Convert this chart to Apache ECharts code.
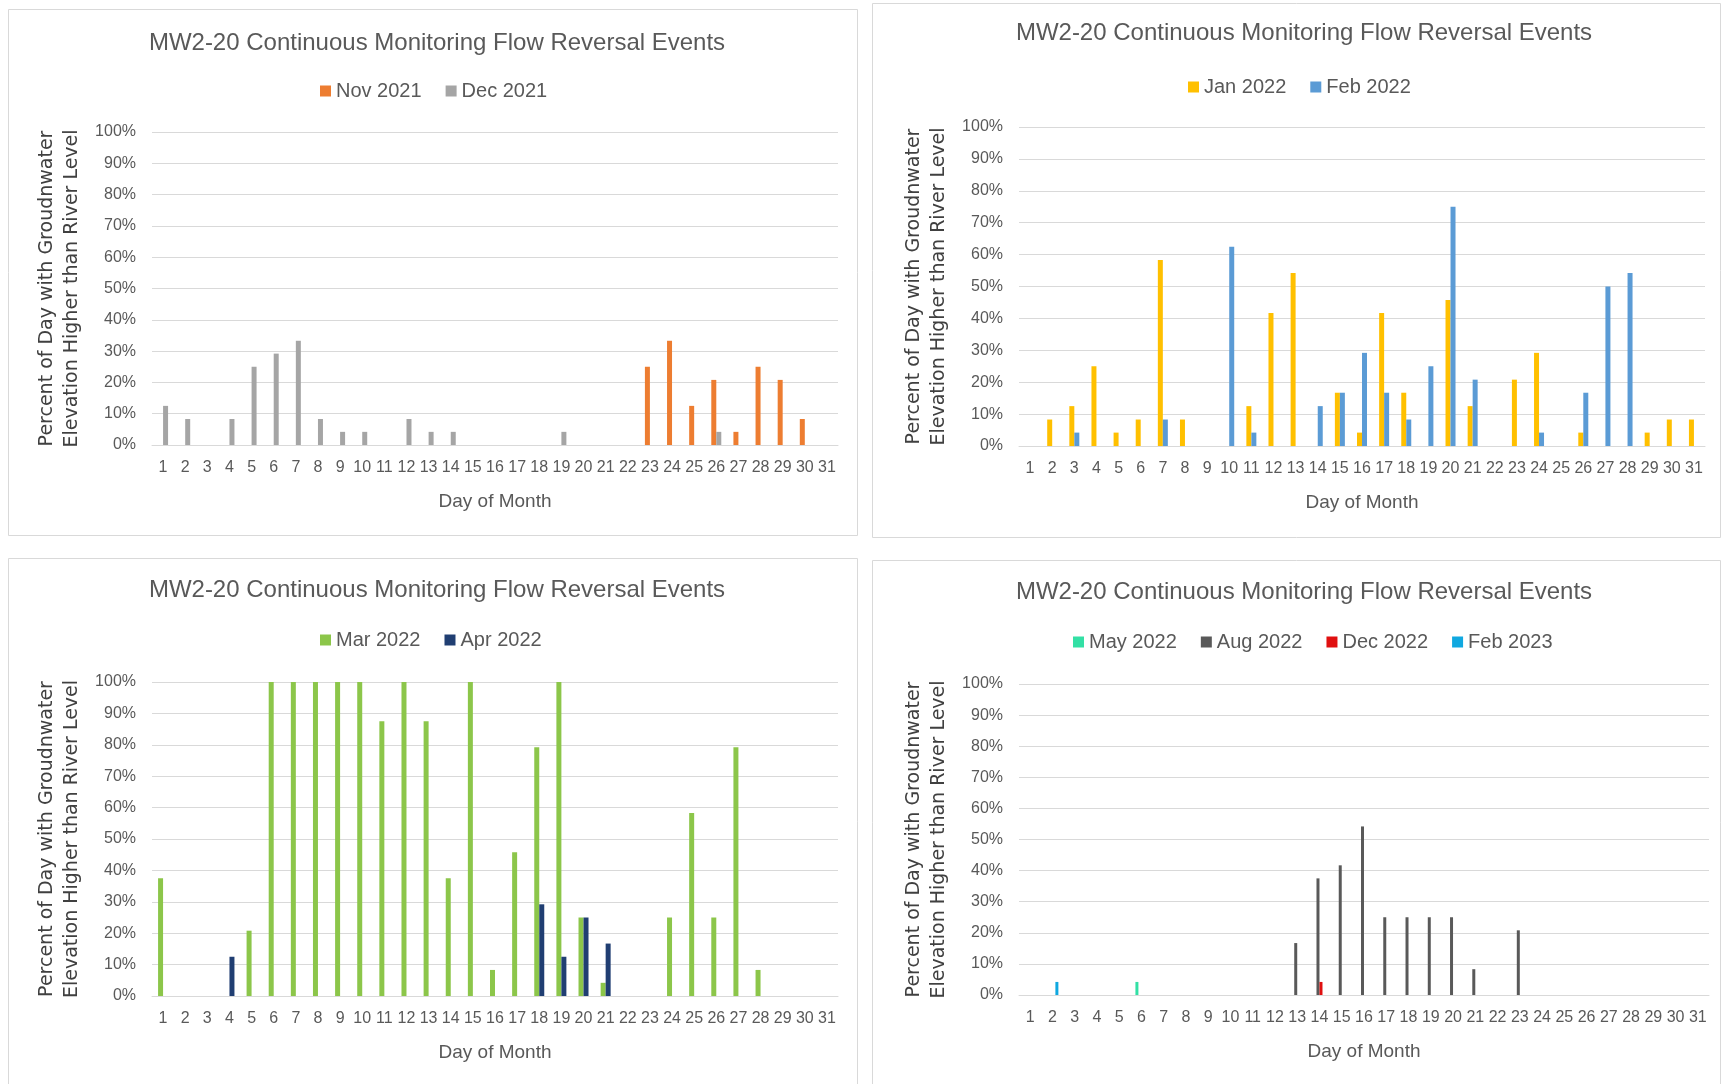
<!DOCTYPE html>
<html>
<head>
<meta charset="utf-8">
<title>MW2-20 Continuous Monitoring Flow Reversal Events</title>
<script src="https://cdn.jsdelivr.net/npm/echarts@6/dist/echarts.min.js"></script>
<style>
  html, body { margin: 0; padding: 0; background: #fff; }
  #chart { width: 1722px; height: 1084px; }
</style>
</head>
<body>
<div id="chart"></div>
<script>
// day-of-month categories
const days = ['1', '2', '3', '4', '5', '6', '7', '8', '9', '10', '11', '12', '13', '14', '15', '16',
  '17', '18', '19', '20', '21', '22', '23', '24', '25', '26', '27', '28', '29', '30', '31'];

// percent of day, one entry per day (null = no event)
const nov2021 = [null, null, null, null, null, null, null, null, null, null, null, null, null, null, null, null,
  null, null, null, null, null, null, 25, 33.3, 12.5, 20.8, 4.2, 25, 20.8, 8.3, null];
const dec2021 = [12.5, 8.3, null, 8.3, 25, 29.2, 33.3, 8.3, 4.2, 4.2, null, 8.3, 4.2, 4.2, null, null,
  null, null, 4.2, null, null, null, null, null, null, 4.2, null, null, null, null, null];

const jan2022 = [null, 8.3, 12.5, 25, 4.2, 8.3, 58.3, 8.3, null, null, 12.5, 41.7, 54.2, null, 16.7, 4.2,
  41.7, 16.7, null, 45.8, 12.5, null, 20.8, 29.2, null, 4.2, null, null, 4.2, 8.3, 8.3];
const feb2022 = [null, null, 4.2, null, null, null, 8.3, null, null, 62.5, 4.2, null, null, 12.5, 16.7, 29.2,
  16.7, 8.3, 25, 75, 20.8, null, null, 4.2, null, 16.7, 50, 54.2, null, null, null];

const mar2022 = [37.5, null, null, null, 20.8, 100, 100, 100, 100, 100, 87.5, 100, 87.5, 37.5, 100, 8.3,
  45.8, 79.2, 100, 25, 4.2, null, null, 25, 58.3, 25, 79.2, 8.3, null, null, null];
const apr2022 = [null, null, null, 12.5, null, null, null, null, null, null, null, null, null, null, null, null,
  null, 29.2, 12.5, 25, 16.7, null, null, null, null, null, null, null, null, null, null];

const may2022 = [null, null, null, null, null, 4.2, null, null, null, null, null, null, null, null, null, null,
  null, null, null, null, null, null, null, null, null, null, null, null, null, null, null];
const aug2022 = [null, null, null, null, null, null, null, null, null, null, null, null, 16.7, 37.5, 41.7, 54.2,
  25, 25, 25, 25, 8.3, null, 20.8, null, null, null, null, null, null, null, null];
const dec2022 = [null, null, null, null, null, null, null, null, null, null, null, null, null, 4.2, null, null,
  null, null, null, null, null, null, null, null, null, null, null, null, null, null, null];
const feb2023 = [null, 4.2, null, null, null, null, null, null, null, null, null, null, null, null, null, null,
  null, null, null, null, null, null, null, null, null, null, null, null, null, null, null];

const chartTitle = 'MW2-20 Continuous Monitoring Flow Reversal Events';
const yName = 'Percent of Day with Groudnwater\nElevation Higher than River Level';

// layout of the four panels (page pixels)
const panels = [
  {
    box: [8, 9, 849, 526], grid: { left: 152, top: 132, width: 686, height: 313 },
    titleX: 432, titleTop: 26, legendLeft: 315, legendTop: 76, barWidth: 5,
    series: [
      { name: 'Nov 2021', data: nov2021, color: '#ED7D31' },
      { name: 'Dec 2021', data: dec2021, color: '#A5A5A5' },
    ],
  },
  {
    box: [872, 3, 848, 534], grid: { left: 1019, top: 127, width: 686, height: 319 },
    titleX: 1299, titleTop: 16, legendLeft: 1183, legendTop: 72, barWidth: 5,
    series: [
      { name: 'Jan 2022', data: jan2022, color: '#FFC000' },
      { name: 'Feb 2022', data: feb2022, color: '#5B9BD5' },
    ],
  },
  {
    box: [8, 558, 849, 530], grid: { left: 152, top: 682, width: 686, height: 314 },
    titleX: 432, titleTop: 573, legendLeft: 315, legendTop: 625, barWidth: 5,
    series: [
      { name: 'Mar 2022', data: mar2022, color: '#8CC64A' },
      { name: 'Apr 2022', data: apr2022, color: '#203E72' },
    ],
  },
  {
    box: [872, 560, 848, 530], grid: { left: 1019, top: 684, width: 690, height: 311 },
    titleX: 1299, titleTop: 575, legendLeft: 1068, legendTop: 627, barWidth: 3,
    series: [
      { name: 'May 2022', data: may2022, color: '#33E0A5' },
      { name: 'Aug 2022', data: aug2022, color: '#595959' },
      { name: 'Dec 2022', data: dec2022, color: '#E01010' },
      { name: 'Feb 2023', data: feb2023, color: '#10A8E0' },
    ],
  },
];

const font = 'Liberation Sans';
const textGray = '#595959';
const lineGray = '#D9D9D9';

var option = {
  animation: false,
  textStyle: { fontFamily: font },
  graphic: panels.map((p) => ({
    type: 'rect',
    silent: true,
    z: -10,
    shape: { x: p.box[0] + 0.5, y: p.box[1] + 0.5, width: p.box[2], height: p.box[3] },
    style: { fill: '#fff', stroke: lineGray, lineWidth: 1 },
  })),
  title: panels.map((p) => ({
    text: chartTitle,
    left: p.titleX,
    top: p.titleTop,
    textAlign: 'center',
    textStyle: { fontFamily: font, fontSize: 24, fontWeight: 'normal', color: textGray },
  })),
  legend: panels.map((p) => ({
    left: p.legendLeft,
    top: p.legendTop,
    data: p.series.map((s) => s.name),
    icon: 'rect',
    itemWidth: 11,
    itemHeight: 11,
    itemGap: 24,
    textStyle: { fontFamily: font, fontSize: 20, color: textGray },
  })),
  grid: panels.map((p) => Object.assign({ outerBoundsMode: 'none' }, p.grid)),
  xAxis: panels.map((p, i) => ({
    type: 'category',
    gridIndex: i,
    data: days,
    axisTick: { show: false },
    axisLine: { lineStyle: { color: lineGray } },
    axisLabel: { interval: 0, fontSize: 16, color: textGray, margin: 15 },
    name: 'Day of Month',
    nameLocation: 'middle',
    nameGap: 47,
    nameTextStyle: { fontSize: 19, color: textGray },
  })),
  yAxis: panels.map((p, i) => ({
    type: 'value',
    gridIndex: i,
    min: 0,
    max: 100,
    interval: 10,
    axisLine: { show: false },
    axisTick: { show: false },
    splitLine: { lineStyle: { color: lineGray } },
    axisLabel: { formatter: '{value}%', fontSize: 16, color: textGray, margin: 16 },
    name: yName,
    nameLocation: 'middle',
    nameRotate: 90,
    nameGap: 67,
    nameTextStyle: { fontFamily: 'DejaVu Sans', fontSize: 19, lineHeight: 25, color: '#404040' },
  })),
  series: [],
};

panels.forEach((p, i) => {
  p.series.forEach((s) => {
    option.series.push({
      type: 'bar',
      name: s.name,
      xAxisIndex: i,
      yAxisIndex: i,
      data: s.data,
      barWidth: p.barWidth,
      barGap: '0%',
      itemStyle: { color: s.color },
    });
  });
});

const myChart = echarts.init(document.getElementById('chart'));
option && myChart.setOption(option);
</script>
</body>
</html>
